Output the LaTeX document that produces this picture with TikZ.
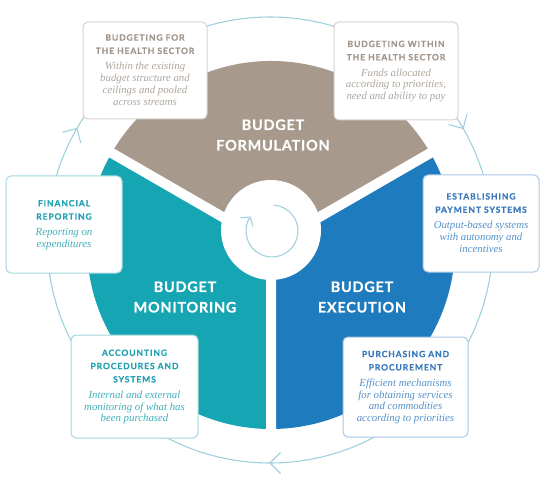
\documentclass[tikz,border=0pt]{standalone}
\usepackage{fontspec}
\usetikzlibrary{calc,arrows.meta}
\newfontfamily\titlefam[LetterSpace=10,BoldFeatures={FakeBold=0.6}]{Lato}
\newfontfamily\bigfam[LetterSpace=5,BoldFeatures={FakeBold=0.4}]{Lato}
\newfontfamily\bodyfam{Liberation Serif}
\definecolor{ringc}{RGB}{160,208,222}
\definecolor{fbrown}{RGB}{167,153,140}
\definecolor{fteal}{RGB}{22,165,178}
\definecolor{fblue}{RGB}{30,123,189}
\definecolor{bordB}{RGB}{217,211,205}
\definecolor{titB}{RGB}{160,150,140}
\definecolor{bodB}{RGB}{175,166,157}
\definecolor{bordT}{RGB}{160,215,222}
\definecolor{titT}{RGB}{35,163,178}
\definecolor{bodT}{RGB}{65,175,188}
\definecolor{bordU}{RGB}{168,200,228}
\definecolor{titU}{RGB}{58,122,188}
\definecolor{bodU}{RGB}{85,145,202}
\newcommand{\boxttl}{\titlefam\bfseries\fontsize{8.6}{9}\selectfont}
\newcommand{\boxbdy}{\color{bcol}\bodyfam\itshape\fontsize{10.8}{11.7}\selectfont}
\tikzset{
  ring/.style={ringc, line width=1.1pt},
  infobox/.style={draw, fill=white, rounded corners=5pt, line width=1pt, inner sep=0pt,
    font=\fontsize{10.3}{11.7}\selectfont},
  brownbox/.style={infobox, draw=bordB, text=titB, execute at begin node={\colorlet{bcol}{bodB}}},
  tealbox/.style={infobox, draw=bordT, text=titT, execute at begin node={\colorlet{bcol}{bodT}}},
  bluebox/.style={infobox, draw=bordU, text=titU, execute at begin node={\colorlet{bcol}{bodU}}},
  biglab/.style={text=white, align=center, font=\bigfam\bfseries\fontsize{14.5}{20.5}\selectfont},
}
\begin{document}
\begin{tikzpicture}[x=1pt, y=-1pt]
\useasboundingbox (0,0) rectangle (549,484);
\coordinate (O) at (270,240);
\coordinate (C) at (271,245);
\coordinate (Ci) at (272,231);
% outer ring with chevrons
\draw[ring] (O) circle[radius=223];
\coordinate (a1) at ($(O)+(210:223)$);
\coordinate (a2) at ($(O)+(330:223)$);
\coordinate (a3) at ($(O)+(90:223)$);
\draw[ring] ($(a1)+(165:15)$) -- (a1) -- ($(a1)+(75:15)$);
\draw[ring] ($(a2)+(285:15)$) -- (a2) -- ($(a2)+(195:15)$);
\draw[ring] ($(a3)+(45:15)$) -- (a3) -- ($(a3)+(-45:15)$);
% sectors
\fill[fbrown] (C) -- ++(210:184) arc[start angle=210, end angle=330, radius=184] -- cycle;
\fill[fblue] (C) -- ++(330:184) arc[start angle=330, end angle=450, radius=184] -- cycle;
\fill[fteal] (C) -- ++(90:184) arc[start angle=90, end angle=210, radius=184] -- cycle;
\draw[white, line width=10pt] (C) -- ++(90:187) (C) -- ++(210:187) (C) -- ++(330:187);
\fill[white] (271,230) circle[radius=50];
% central cycle arrow
\draw[ring, -{Straight Barb[length=6pt, width=15pt]}] ($(Ci)+(274:26)$) arc[start angle=274, end angle=574, radius=26];
% big labels
\node[biglab] (form) at (273,135) {BUDGET\\FORMULATION};
\node[biglab] (moni) at (185,297) {BUDGET\\MONITORING};
\node[biglab] (exec) at (362,297) {BUDGET\\EXECUTION};
% boxes
\node[brownbox, minimum width=124pt, minimum height=97pt] (tlb) at (145,70.5) {\begin{tabular}{@{}c@{}}
\boxttl BUDGETING FOR\\[1.6pt]
\boxttl THE HEALTH SECTOR\\[4.3pt]
\boxbdy Within the existing\\
\boxbdy budget structure and\\
\boxbdy ceilings and pooled\\
\boxbdy across streams
\end{tabular}};
\node[brownbox, minimum width=124pt, minimum height=98pt] (trb) at (396,71) {\begin{tabular}{@{}c@{}}
\boxttl BUDGETING WITHIN\\[1.6pt]
\boxttl THE HEALTH SECTOR\\[4.3pt]
\boxbdy Funds allocated\\
\boxbdy according to priorities,\\
\boxbdy need and ability to pay
\end{tabular}};
\node[tealbox, minimum width=116pt, minimum height=97pt] (lb) at (64,224.5) {\begin{tabular}{@{}c@{}}
\boxttl FINANCIAL\\[1.6pt]
\boxttl REPORTING\\[4.3pt]
\boxbdy Reporting on\\
\boxbdy expenditures
\end{tabular}};
\node[bluebox, minimum width=116pt, minimum height=97pt] (rb) at (481,223.5) {\begin{tabular}{@{}c@{}}
\boxttl ESTABLISHING\\[1.6pt]
\boxttl PAYMENT SYSTEMS\\[4.3pt]
\boxbdy Output-based systems\\
\boxbdy with autonomy and\\
\boxbdy incentives
\end{tabular}};
\node[tealbox, minimum width=127pt, minimum height=103pt] (blb) at (134.5,386.5) {\begin{tabular}{@{}c@{}}
\boxttl ACCOUNTING\\[1.6pt]
\boxttl PROCEDURES AND\\[1.6pt]
\boxttl SYSTEMS\\[4.3pt]
\boxbdy Internal and external\\
\boxbdy monitoring of what has\\
\boxbdy been purchased
\end{tabular}};
\node[bluebox, minimum width=125pt, minimum height=100pt] (brb) at (405.5,387) {\begin{tabular}{@{}c@{}}
\boxttl PURCHASING AND\\[1.6pt]
\boxttl PROCUREMENT\\[4.3pt]
\boxbdy Efficient mechanisms\\
\boxbdy for obtaining services\\
\boxbdy and commodities\\
\boxbdy according to priorities
\end{tabular}};
\end{tikzpicture}
\end{document}
